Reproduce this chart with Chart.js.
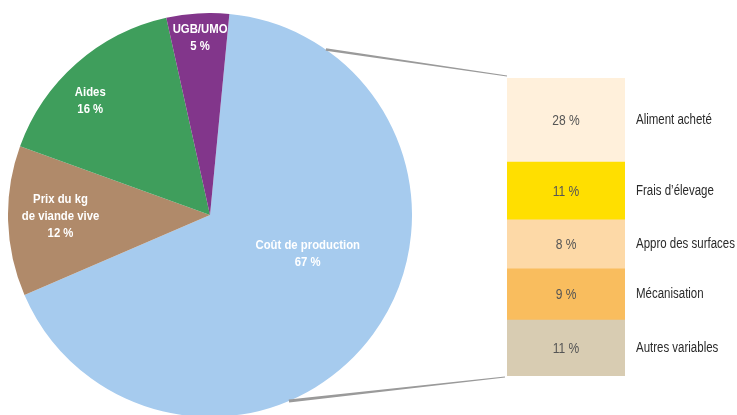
<!DOCTYPE html>
<html><head><meta charset="utf-8">
<script src="https://cdn.jsdelivr.net/npm/chart.js@4"></script>
<style>
html,body{margin:0;padding:0;background:#fff;overflow:hidden;width:737px;height:415px;}
#pieWrap{position:absolute;left:8px;top:13px;width:404px;height:404px;}
#barWrap{position:absolute;left:0;top:0;width:737px;height:415px;}
</style></head><body>
<div id="pieWrap"><canvas id="pie"></canvas></div>
<div id="barWrap"><canvas id="bar"></canvas></div>
<script>
// ---- data ----
const pieLabels = [['Coût de production'], ['Prix du kg', 'de viande vive'], ['Aides'], ['UGB/UMO']];
const pieValues = [67, 12, 16, 5];
const barCategories = ['Aliment acheté', 'Frais d’élevage', 'Appro des surfaces', 'Mécanisation', 'Autres variables'];
const barShares = [28, 11, 8, 9, 11];                 // printed percentages
const barSegmentSizes = [18.9, 13.0, 11.0, 11.5, 12.6]; // segment heights as drawn in the figure

// ---- styles ----
const pieColors = ['#A6CBEE', '#B08A6A', '#3F9E5C', '#82368B'];
const barColors = ['#FFF0DB', '#FFDF00', '#FDD9A7', '#F9BD5E', '#D8CCB2'];
const pieLabelPos = [{d: -14.6, f: 0.52}, {d: 1.3, f: 0.74}, {d: -5, f: 0.82}, {d: 0.3, f: 0.88}];
const FONT = "'Liberation Sans', Arial, sans-serif";
Chart.defaults.font.family = FONT;

function narrowText(ctx, t, x, y, sx) {
  ctx.save();
  ctx.translate(x, y);
  ctx.scale(sx, 1);
  ctx.fillText(t, 0, 0);
  ctx.restore();
}

const pieLabelPlugin = {
  id: 'pieLabels',
  afterDatasetsDraw(chart) {
    const ctx = chart.ctx;
    const meta = chart.getDatasetMeta(0);
    ctx.save();
    ctx.fillStyle = '#ffffff';
    ctx.font = "bold 13.5px " + FONT;
    ctx.textAlign = 'center';
    ctx.textBaseline = 'middle';
    meta.data.forEach((arc, i) => {
      const p = arc.getProps(['x', 'y', 'startAngle', 'endAngle', 'outerRadius'], true);
      const a = (p.startAngle + p.endAngle) / 2 + pieLabelPos[i].d * Math.PI / 180;
      const r = p.outerRadius * pieLabelPos[i].f;
      const cx = p.x + r * Math.cos(a), cy = p.y + r * Math.sin(a);
      const lines = pieLabels[i].concat([pieValues[i] + ' %']);
      const lh = 17;
      lines.forEach((t, k) => {
        narrowText(ctx, t, cx, cy + (k - (lines.length - 1) / 2) * lh, 0.84);
      });
    });
    ctx.restore();
  }
};

const pieChart = new Chart(document.getElementById('pie'), {
  type: 'pie',
  data: {
    labels: pieLabels.map(l => l.join(' ')),
    datasets: [{data: pieValues, backgroundColor: pieColors, borderWidth: 0}]
  },
  options: {
    responsive: true, maintainAspectRatio: false, animation: false, devicePixelRatio: 1,
    rotation: 5.5,
    layout: {padding: 0},
    plugins: {legend: {display: false}, tooltip: {enabled: false}}
  },
  plugins: [pieLabelPlugin]
});

const barPlugin = {
  id: 'barLabels',
  afterDatasetsDraw(chart) {
    const ctx = chart.ctx;
    const n = barCategories.length;
    let top = Infinity, bottom = -Infinity, left = 0, right = 0;
    ctx.save();
    for (let di = 0; di < n; di++) {
      const el = chart.getDatasetMeta(di).data[0];
      const p = el.getProps(['x', 'y', 'base', 'width'], true);
      const idx = n - 1 - di; // datasets are bottom-to-top
      const yc = (p.y + p.base) / 2;
      left = p.x - p.width / 2; right = p.x + p.width / 2;
      top = Math.min(top, p.y, p.base); bottom = Math.max(bottom, p.y, p.base);
      ctx.font = "14px " + FONT;
      ctx.fillStyle = '#555555';
      ctx.textAlign = 'center'; ctx.textBaseline = 'middle';
      narrowText(ctx, barShares[idx] + ' %', p.x, yc + 1, 0.86);
      ctx.fillStyle = '#2a2a2a';
      ctx.textAlign = 'left';
      narrowText(ctx, barCategories[idx], right + 11, yc, 0.82);
    }
    // connector lines from the pie to the bar
    const arc = pieChart.getDatasetMeta(0).data[0].getProps(['x', 'y', 'outerRadius'], true);
    const ox = 8, oy = 13;
    const pt = (deg) => {
      const a = (deg - 90) * Math.PI / 180;
      return [ox + arc.x + arc.outerRadius * Math.cos(a), oy + arc.y + arc.outerRadius * Math.sin(a)];
    };
    const taper = (p0, p1, w0, w1) => {
      const dx = p1[0] - p0[0], dy = p1[1] - p0[1];
      const L = Math.hypot(dx, dy), nx = -dy / L, ny = dx / L;
      ctx.beginPath();
      ctx.moveTo(p0[0] + nx * w0 / 2, p0[1] + ny * w0 / 2);
      ctx.lineTo(p1[0] + nx * w1 / 2, p1[1] + ny * w1 / 2);
      ctx.lineTo(p1[0] - nx * w1 / 2, p1[1] - ny * w1 / 2);
      ctx.lineTo(p0[0] - nx * w0 / 2, p0[1] - ny * w0 / 2);
      ctx.closePath();
      ctx.fill();
    };
    ctx.fillStyle = '#9A9A9A';
    taper(pt(35), [left, top - 2], 2.5, 1);
    taper(pt(157), [left - 2, bottom + 1], 3, 1);
    ctx.restore();
  }
};

const stackSum = barSegmentSizes.reduce((a, b) => a + b, 0);
new Chart(document.getElementById('bar'), {
  type: 'bar',
  data: {
    labels: ['Coût de production'],
    datasets: barCategories.map((c, i) => ({
      label: c, data: [barSegmentSizes[i]], backgroundColor: barColors[i],
      borderWidth: 0, barPercentage: 1, categoryPercentage: 1
    })).reverse()
  },
  options: {
    responsive: true, maintainAspectRatio: false, animation: false, devicePixelRatio: 1,
    layout: {padding: {left: 507, right: 112, top: 78, bottom: 39}},
    scales: {
      x: {display: false, stacked: true},
      y: {display: false, stacked: true, min: 0, max: stackSum}
    },
    plugins: {legend: {display: false}, tooltip: {enabled: false}}
  },
  plugins: [barPlugin]
});
</script>
</body></html>
